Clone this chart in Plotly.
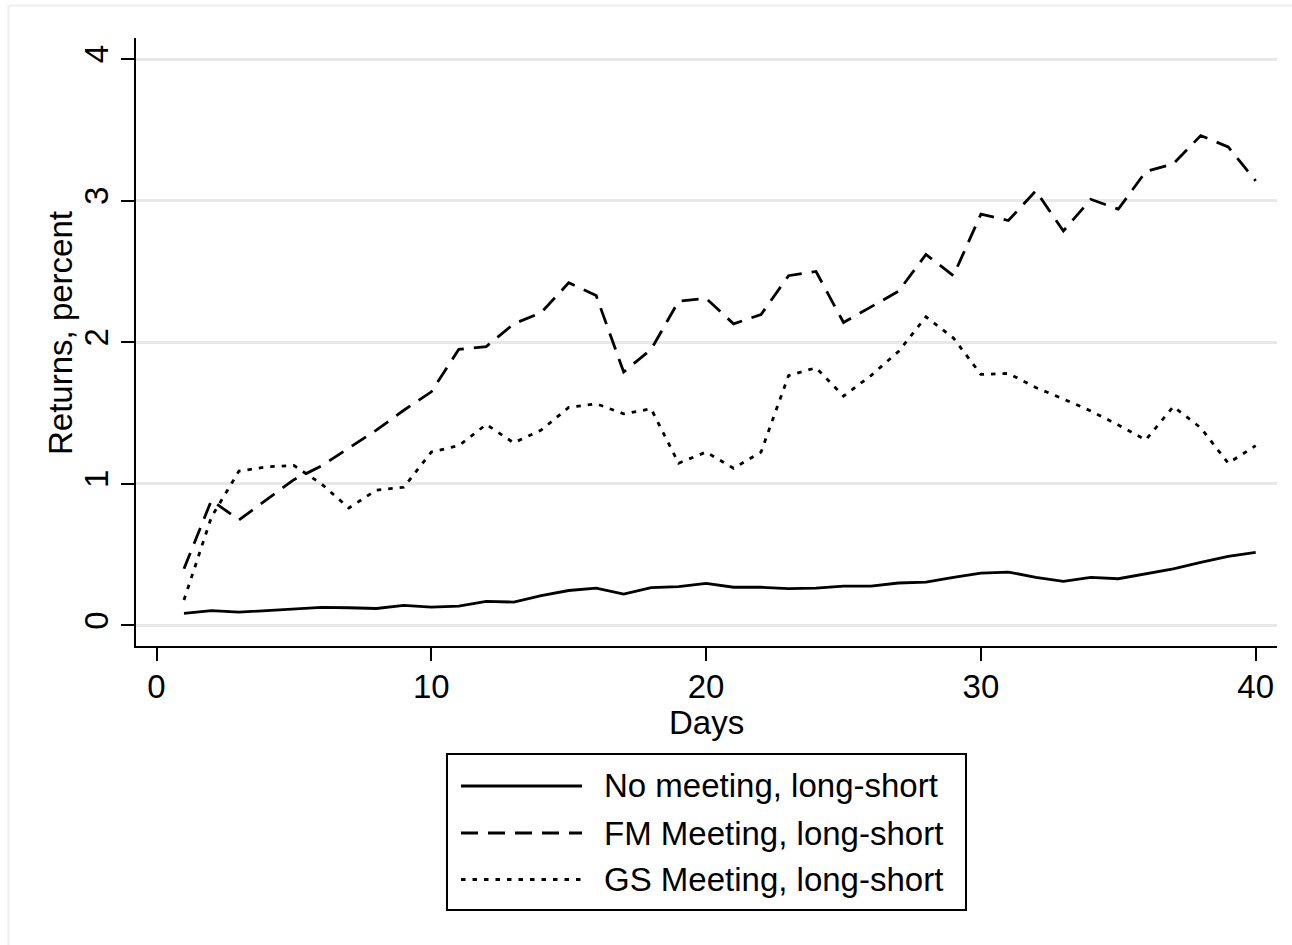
import plotly.graph_objects as go

days = list(range(1, 41))
no_meeting = [0.085, 0.105, 0.094, 0.105, 0.12, 0.128, 0.125, 0.12, 0.142, 0.13,
              0.136, 0.17, 0.165, 0.21, 0.247, 0.264, 0.221, 0.267, 0.275, 0.297,
              0.27, 0.27, 0.26, 0.264, 0.278, 0.278, 0.30, 0.306, 0.34, 0.369,
              0.377, 0.34, 0.312, 0.34, 0.33, 0.366, 0.40, 0.445, 0.488, 0.516]
fm_meeting = [0.40, 0.885, 0.745, 0.89, 1.03, 1.126, 1.25, 1.38, 1.52, 1.65,
              1.95, 1.97, 2.13, 2.21, 2.42, 2.33, 1.79, 1.95, 2.29, 2.31,
              2.13, 2.196, 2.47, 2.50, 2.14, 2.25, 2.36, 2.62, 2.47, 2.905,
              2.86, 3.07, 2.786, 3.01, 2.94, 3.206, 3.26, 3.46, 3.38, 3.14]
gs_meeting = [0.18, 0.766, 1.09, 1.12, 1.13, 1.0, 0.83, 0.956, 0.976, 1.225,
              1.27, 1.42, 1.29, 1.38, 1.54, 1.566, 1.495, 1.53, 1.146, 1.225,
              1.11, 1.225, 1.765, 1.82, 1.62, 1.765, 1.935, 2.18, 2.03, 1.773,
              1.78, 1.68, 1.60, 1.515, 1.416, 1.31, 1.546, 1.396, 1.146, 1.27]

series_names = ["No meeting, long-short", "FM Meeting, long-short", "GS Meeting, long-short"]
dashes = ["solid", "17px,10px", "4.5px,7px"]
x_ticks = [0, 10, 20, 30, 40]
y_ticks = [0, 1, 2, 3, 4]
x_title = "Days"
y_title = "Returns, percent"

FONT = "Arial, Liberation Sans, Helvetica, sans-serif"
FS = 33
LW = 2.8

fig = go.Figure()
for name, vals, dash in zip(series_names, [no_meeting, fm_meeting, gs_meeting], dashes):
    fig.add_trace(go.Scatter(x=days, y=vals, mode="lines", name=name,
                             line=dict(color="black", width=LW, dash=dash),
                             showlegend=False))

# plot area in px: x 136..1277, y 38..646
L, R, T, B = 136, 1277, 38, 646
W, H = 1292, 945


def px(xp):
    return (xp - L) / (R - L)


def py(yp):
    return (B - yp) / (B - T)


shapes = []
# outer faint frame (top and left)
shapes.append(dict(type="line", xref="paper", yref="paper", x0=px(8.5), x1=px(1300),
                   y0=py(5.5), y1=py(5.5), line=dict(color="#eeeeee", width=2), layer="below"))
shapes.append(dict(type="line", xref="paper", yref="paper", x0=px(8.5), x1=px(8.5),
                   y0=py(5.5), y1=py(960), line=dict(color="#eeeeee", width=2), layer="below"))
# legend box
shapes.append(dict(type="rect", xref="paper", yref="paper", x0=px(447), x1=px(966),
                   y0=py(910), y1=py(754), line=dict(color="black", width=2)))
rows = [786, 833, 879.5]
annotations = []
for name, dash, ry in zip(series_names, dashes, rows):
    shapes.append(dict(type="line", xref="paper", yref="paper", x0=px(461), x1=px(582),
                       y0=py(ry), y1=py(ry), line=dict(color="black", width=LW, dash=dash)))
    annotations.append(dict(xref="paper", yref="paper", x=px(602), y=py(ry), text=name,
                            showarrow=False, xanchor="left", yanchor="middle",
                            font=dict(family=FONT, size=FS, color="black")))

# axis titles
annotations.append(dict(xref="paper", yref="paper", x=px(706.5), y=py(722), text=x_title,
                        showarrow=False, xanchor="center", yanchor="middle",
                        font=dict(family=FONT, size=FS, color="black")))
annotations.append(dict(xref="paper", yref="paper", x=px(60), y=py(333), text=y_title,
                        showarrow=False, xanchor="center", yanchor="middle", textangle=-90,
                        font=dict(family=FONT, size=FS, color="black")))

fig.update_layout(
    width=W, height=H,
    margin=dict(l=L, r=W - R, t=T, b=H - B, autoexpand=False),
    paper_bgcolor="white", plot_bgcolor="white",
    font=dict(family=FONT, size=FS, color="black"),
    shapes=shapes, annotations=annotations,
    showlegend=False,
)
fig.update_xaxes(range=[-0.746, 40.775], tickvals=x_ticks, ticks="outside", ticklen=13,
                 tickwidth=2, tickcolor="black", showline=True, linecolor="black", linewidth=2,
                 showgrid=False, zeroline=False, automargin=False, ticklabelstandoff=-3,
                 tickfont=dict(size=FS))
fig.update_yaxes(range=[-0.145, 4.149], tickvals=y_ticks, ticks="outside", ticklen=13,
                 tickwidth=2, tickcolor="black", showline=True, linecolor="black", linewidth=2,
                 showgrid=True, gridcolor="#e8e8e8", gridwidth=3, zeroline=False,
                 automargin=False, tickangle=-90,
                 tickfont=dict(size=FS))

fig.write_html("out.html")
